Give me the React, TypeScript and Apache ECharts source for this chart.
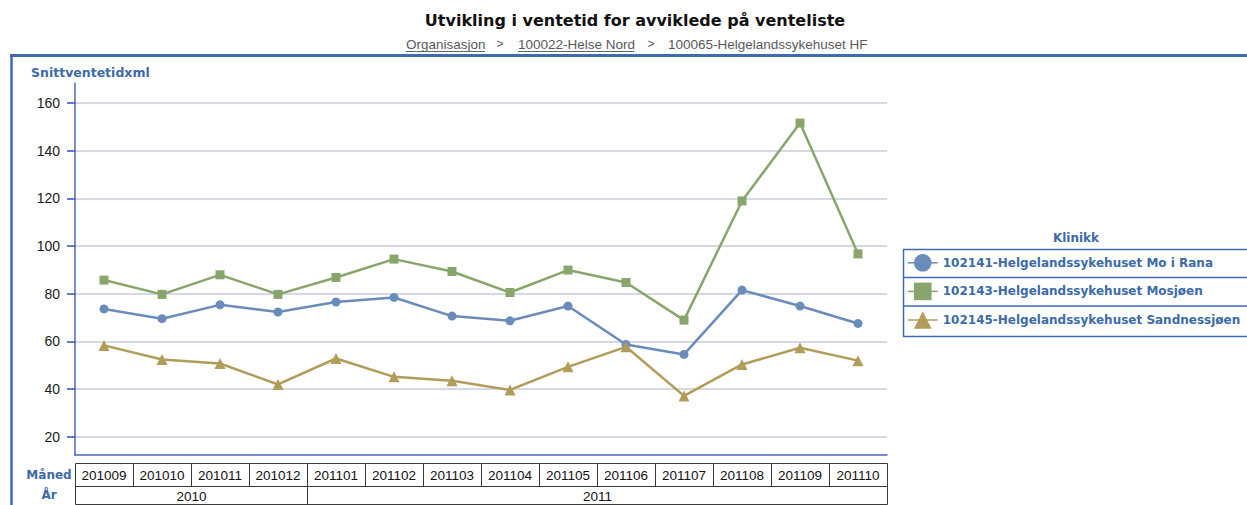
import React, { useEffect, useRef } from "react";
import * as echarts from "echarts";

const months = ["201009", "201010", "201011", "201012", "201101", "201102", "201103", "201104", "201105", "201106", "201107", "201108", "201109", "201110"];
const seriesNames = [
  "102141-Helgelandssykehuset Mo i Rana",
  "102143-Helgelandssykehuset Mosjøen",
  "102145-Helgelandssykehuset Sandnessjøen",
];
const moIRana = [73.6, 69.5, 75.3, 72.3, 76.5, 78.4, 70.6, 68.6, 74.8, 58.7, 54.5, 81.5, 74.8, 67.5];
const mosjoen = [85.7, 79.7, 87.9, 79.7, 86.8, 94.5, 89.3, 80.5, 89.9, 84.7, 68.9, 118.9, 151.6, 96.7];
const sandnessjoen = [58.3, 52.4, 50.7, 41.9, 52.8, 45.1, 43.5, 39.6, 49.3, 57.7, 37.1, 50.3, 57.3, 51.9];
const yTicks = [20, 40, 60, 80, 100, 120, 140, 160];
const breadcrumb = ["Organisasjon", "100022-Helse Nord", "100065-Helgelandssykehuset HF"];

const COLORS = ["#6a8cba", "#88a66c", "#b29c5a"];
const SYMBOLS = ["circle", "rect", "triangle"];
const SIZES = [9, 9, 11];
const BLUE = "#3d6cb4";
const LABEL_BLUE = "#3d6aa8";

export default function App() {
  const ref = useRef<HTMLDivElement>(null);
  useEffect(() => {
    if (!ref.current) return;
    const chart = echarts.init(ref.current, undefined, { renderer: "svg" });
    const data = [moIRana, mosjoen, sandnessjoen];
    const option: any = {
      animation: false,
      backgroundColor: "#ffffff",
      grid: { left: 75, right: 360, top: 83, bottom: 50, containLabel: false },
      xAxis: {
        type: "category",
        data: months,
        boundaryGap: true,
        axisLine: { show: true, lineStyle: { color: "#4a68c0", width: 1.5 } },
        axisTick: { show: false },
        axisLabel: { show: false },
        splitLine: { show: false },
      },
      yAxis: {
        type: "value",
        min: 12.3,
        max: 168.4,
        axisLine: { show: true, lineStyle: { color: "#4a68c0", width: 1.5 } },
        axisTick: { show: true, length: 8, lineStyle: { color: "#3050b8", width: 1.5 }, customValues: yTicks },
        axisLabel: {
          customValues: yTicks,
          margin: 15,
          color: "#1a1a1a",
          fontFamily: "Liberation Sans",
          fontSize: 14,
        },
        splitLine: { show: true, lineStyle: { color: "#c8ccdc", width: 1.5 } },
      },
      legend: {
        orient: "vertical",
        left: 907,
        top: 254,
        padding: 0,
        itemWidth: 30,
        itemHeight: 22,
        itemGap: 11,
        data: seriesNames,
        lineStyle: { width: 1.5 },
        textStyle: { fontFamily: "DejaVu Sans", fontWeight: "bold", fontSize: 12, color: LABEL_BLUE },
      },
      series: seriesNames.map((name, i) => ({
        name,
        type: "line",
        data: data[i],
        symbol: SYMBOLS[i],
        symbolSize: SIZES[i],
        lineStyle: { width: 2.5, color: COLORS[i] },
        itemStyle: { color: COLORS[i] },
        emphasis: { disabled: true },
      })),
    };
    chart.setOption(option);

    // Build table & decorations from axis scale
    const centers = months.map((m) => chart.convertToPixel({ xAxisIndex: 0 }, m) as number);
    const band = centers.length > 1 ? centers[1] - centers[0] : 58;
    const lefts = centers.map((c) => c - band / 2);
    const right = centers[centers.length - 1] + band / 2;
    const r1Top = 463.5, r1Bot = 486.5, r2Bot = 504.5;
    const g: any[] = [];
    // frame
    g.push({ type: "line", shape: { x1: 10, y1: 55.5, x2: 1247, y2: 55.5 }, style: { stroke: BLUE, lineWidth: 3 } });
    g.push({ type: "line", shape: { x1: 11.5, y1: 55, x2: 11.5, y2: 505 }, style: { stroke: BLUE, lineWidth: 2.5 } });
    // title
    g.push({
      type: "text", x: 635, y: 20,
      style: { text: "Utvikling i ventetid for avviklede på venteliste", fontFamily: "DejaVu Sans", fontWeight: "bold", fontSize: 16, fill: "#111", align: "center", verticalAlign: "middle" },
    });
    // breadcrumb
    const bcX = [406, 518, 668];
    const ulW = [79, 116];
    breadcrumb.forEach((t, i) => {
      g.push({ type: "text", x: bcX[i], y: 44, style: { text: t, fontFamily: "Liberation Sans", fontSize: 13.5, fill: "#5a5a5a", align: "left", verticalAlign: "middle" } });
      if (i < 2) {
        g.push({ type: "line", shape: { x1: bcX[i], y1: 51.5, x2: bcX[i] + ulW[i], y2: 51.5 }, style: { stroke: "#666", lineWidth: 1 } });
      }
    });
    [500, 651].forEach((x) => {
      g.push({ type: "text", x, y: 44, style: { text: ">", fontFamily: "Liberation Sans", fontSize: 12, fill: "#5a5a5a", align: "center", verticalAlign: "middle" } });
    });
    // y axis name
    g.push({ type: "text", x: 31, y: 72, style: { text: "Snittventetidxml", fontFamily: "DejaVu Sans", fontWeight: "bold", fontSize: 12.5, fill: LABEL_BLUE, align: "left", verticalAlign: "middle" } });
    // legend title and box
    g.push({ type: "text", x: 1076, y: 238, style: { text: "Klinikk", fontFamily: "DejaVu Sans", fontWeight: "bold", fontSize: 12, fill: LABEL_BLUE, align: "center", verticalAlign: "middle" } });
    [249.5, 277.5, 306, 336.5].forEach((y) => {
      g.push({ type: "line", shape: { x1: 903, y1: y, x2: 1247, y2: y }, style: { stroke: BLUE, lineWidth: 1.5 } });
    });
    g.push({ type: "line", shape: { x1: 903.5, y1: 249.5, x2: 903.5, y2: 336.5 }, style: { stroke: BLUE, lineWidth: 1.5 } });
    // table row labels
    g.push({ type: "text", x: 49, y: 475, style: { text: "Måned", fontFamily: "DejaVu Sans", fontWeight: "bold", fontSize: 12, fill: LABEL_BLUE, align: "center", verticalAlign: "middle" } });
    g.push({ type: "text", x: 49, y: 495, style: { text: "År", fontFamily: "DejaVu Sans", fontWeight: "bold", fontSize: 12, fill: LABEL_BLUE, align: "center", verticalAlign: "middle" } });
    // month cells
    months.forEach((m, i) => {
      const x = Math.round(lefts[i]) + 0.5;
      const w = Math.round(lefts[i] + band) - Math.round(lefts[i]);
      g.push({ type: "rect", shape: { x, y: r1Top, width: w, height: r1Bot - r1Top }, style: { fill: "none", stroke: "#3a3a3a", lineWidth: 1 } });
      g.push({ type: "text", x: centers[i], y: (r1Top + r1Bot) / 2 + 0.5, style: { text: m, fontFamily: "Liberation Sans", fontSize: 13.5, fill: "#111", align: "center", verticalAlign: "middle" } });
    });
    // year cells derived from months
    const yearGroups: { year: string; start: number; end: number }[] = [];
    months.forEach((m, i) => {
      const y = m.slice(0, 4);
      const last = yearGroups[yearGroups.length - 1];
      if (last && last.year === y) last.end = i;
      else yearGroups.push({ year: y, start: i, end: i });
    });
    yearGroups.forEach((yg) => {
      const x0 = Math.round(lefts[yg.start]) + 0.5;
      const x1 = Math.round(yg.end === months.length - 1 ? right : lefts[yg.end] + band) + 0.5;
      g.push({ type: "rect", shape: { x: x0, y: r1Bot, width: x1 - x0, height: r2Bot - r1Bot }, style: { fill: "none", stroke: "#3a3a3a", lineWidth: 1 } });
      g.push({ type: "text", x: (x0 + x1) / 2, y: (r1Bot + r2Bot) / 2 + 0.5, style: { text: yg.year, fontFamily: "Liberation Sans", fontSize: 13.5, fill: "#111", align: "center", verticalAlign: "middle" } });
    });
    chart.setOption({ graphic: g });
    return () => chart.dispose();
  }, []);
  return <div ref={ref} style={{ position: "fixed", left: 0, top: 0, width: 1247, height: 505 }} />;
}
